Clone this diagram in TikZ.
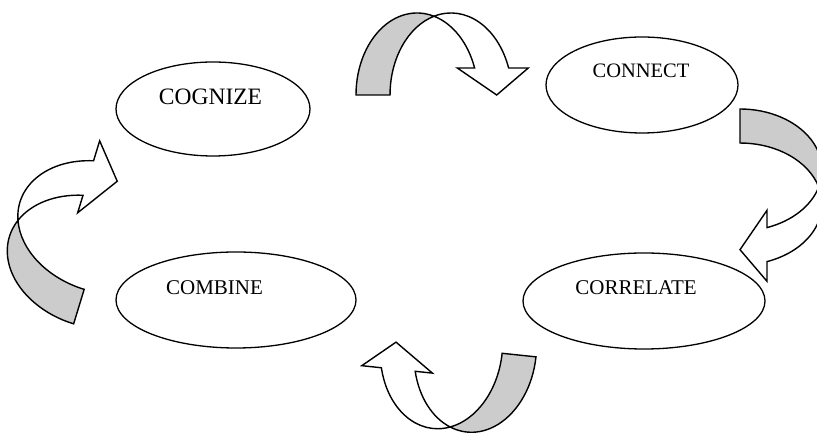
\documentclass[tikz,border=0pt]{standalone}
\usepackage{fontspec}
\setmainfont{Liberation Serif}
\usetikzlibrary{shapes.geometric}
\definecolor{bandgray}{RGB}{204,204,204}
\tikzset{
  stage/.style={ellipse, draw=black, line width=1.3pt, inner sep=0pt},
  stagetext/.style={anchor=base, inner sep=0pt},
  ribbon/.style={draw=black, line width=1.4pt, line join=miter},
  curvedarrow/.pic={
    % back (gray) part of the ribbon: inside the left ellipse, outside the right one
    \filldraw[ribbon, fill=bandgray]
      (-78,0) arc[start angle=180, end angle=73.8, x radius=61, y radius=82]
      arc[start angle=106.2, end angle=180, x radius=61, y radius=82] -- cycle;
    % front (white) part with arrowhead
    \filldraw[ribbon, fill=white]
      (0,78.75) arc[start angle=106.2, end angle=19.22, x radius=61, y radius=82]
      -- (94.3,27) -- (62.7,0) -- (23.3,27) -- (40.6,27)
      arc[start angle=19.22, end angle=73.8, x radius=61, y radius=82] -- cycle;
  }
}
\begin{document}
\begin{tikzpicture}[x=1pt, y=1pt]
\useasboundingbox (0,0) rectangle (817,433);
\fill[white] (0,0) rectangle (817,433);
\clip (0,0) rectangle (817,433);

% curved arrows
\pic[rotate=0] at (434,338) {curvedarrow};
\pic[rotate=-90] at (740,246) {curvedarrow};
\pic[rotate=174] at (458.4,84.3) {curvedarrow};
\pic[rotate=73, scale=1.06] at (97.8,188.2) {curvedarrow};

% stages
\node[stage, minimum width=194pt, minimum height=94pt] (cognize) at (213,324) {};
\node[stage, minimum width=192pt, minimum height=96pt] (connect) at (642,348) {};
\node[stage, minimum width=240pt, minimum height=96pt] (combine) at (236,133) {};
\node[stage, minimum width=242pt, minimum height=96pt] (correlate) at (644,132) {};

\node[stagetext, font=\fontsize{23.5}{28}\selectfont] (cognizeT) at (210.5,328) {COGNIZE};
\node[stagetext, font=\fontsize{20.5}{25}\selectfont] (connectT) at (641,355) {CONNECT};
\node[stagetext, font=\fontsize{21}{25}\selectfont] (combineT) at (214.5,138) {COMBINE};
\node[stagetext, font=\fontsize{21}{25}\selectfont] (correlateT) at (636,138) {CORRELATE};
\end{tikzpicture}
\end{document}
